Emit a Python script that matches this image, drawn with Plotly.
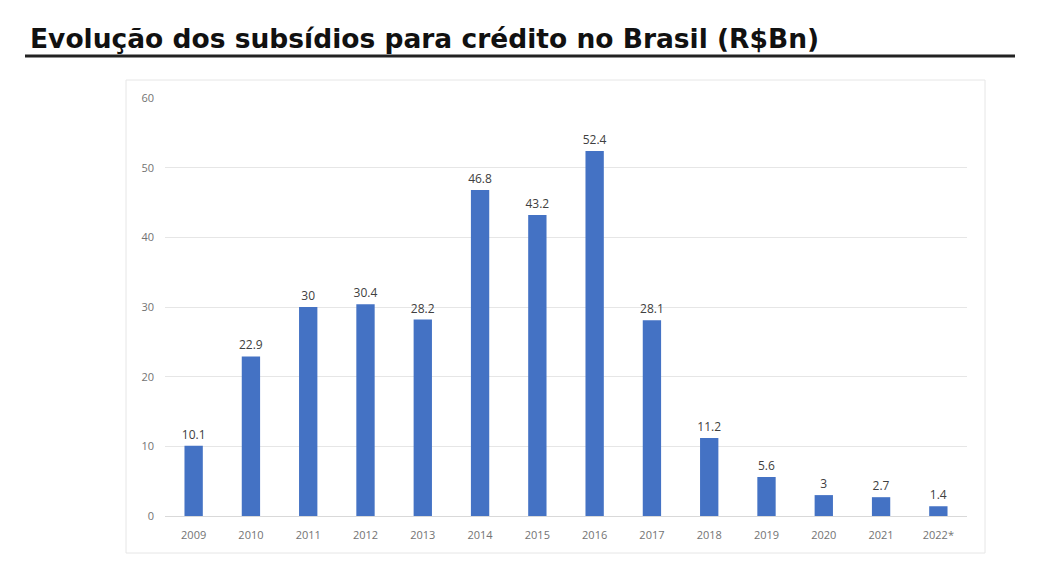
import plotly.graph_objects as go

# Subsídios para crédito no Brasil (R$ bilhões)
years = ["2009", "2010", "2011", "2012", "2013", "2014", "2015",
         "2016", "2017", "2018", "2019", "2020", "2021", "2022*"]
subsidies = [10.1, 22.9, 30, 30.4, 28.2, 46.8, 43.2,
             52.4, 28.1, 11.2, 5.6, 3, 2.7, 1.4]
y_ticks = [0, 10, 20, 30, 40, 50, 60]

BAR_COLOR = "#4472C4"
W, H = 1054, 578
OFF = 8  # page offset seen in the render
L, R, T, B = 165 - OFF, 87 + OFF, 98 - OFF, 62 + OFF
PW, PH = W - L - R, H - T - B


def px_x(px):
    return (px - OFF - L) / PW


def px_y(py):
    return (H - B - (py - OFF)) / PH


fig = go.Figure()
fig.add_trace(go.Bar(
    x=years, y=subsidies,
    marker=dict(color=BAR_COLOR, line=dict(width=0)),
    width=0.32,
    text=[f"{v:g}" for v in subsidies],
    textposition="outside",
    constraintext="none",
    textfont=dict(family="Open Sans", size=12, color="#404040"),
    cliponaxis=False,
))

# Chart frame
fig.add_shape(type="rect", xref="paper", yref="paper",
              x0=px_x(126), x1=px_x(985), y0=px_y(553), y1=px_y(80),
              line=dict(color="#e6e6e6", width=1), layer="below")
# Title underline
fig.add_shape(type="line", xref="paper", yref="paper",
              x0=px_x(25), x1=px_x(1015), y0=px_y(56), y1=px_y(56),
              line=dict(color="#222222", width=3))

fig.update_layout(
    width=W, height=H,
    margin=dict(l=L, r=R, t=T, b=B),
    paper_bgcolor="white", plot_bgcolor="white",
    showlegend=False,
    title=dict(text="<b>Evolução dos subsídios para crédito no Brasil (R$Bn)</b>",
               xref="container", yref="container",
               x=(30 - OFF) / W, xanchor="left", y=1 - (39 - OFF) / H, yanchor="middle",
               font=dict(family="DejaVu Sans", size=26.5, color="#111111")),
    font=dict(family="Open Sans", color="#595959"),
)
fig.update_xaxes(showgrid=False, showline=True, linecolor="#d9d9d9",
                 ticks="", ticklabelstandoff=9,
                 tickfont=dict(size=11, color="#737373"))
fig.update_yaxes(range=[0, 60], tickvals=y_ticks, showgrid=True,
                 gridcolor="#e6e6e6", zeroline=False, showline=False,
                 ticks="", ticklabelstandoff=10,
                 tickfont=dict(size=11, color="#737373"))

fig.write_html("out.html")
